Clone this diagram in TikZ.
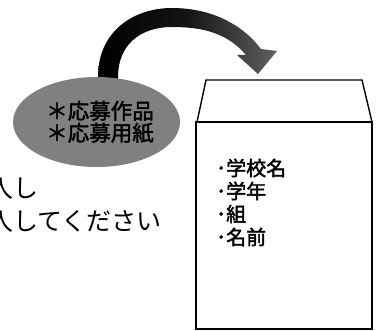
\documentclass[tikz,border=0pt]{standalone}
\usepackage{fontspec}
\usetikzlibrary{shapes.geometric}
\newfontfamily\cjk{Noto Sans CJK JP}
\newfontfamily\cjkb[FakeBold=2]{Noto Sans CJK JP}
\tikzset{
  envline/.style={line width=1.4pt, line join=miter},
  envtext/.style={anchor=west, inner sep=0pt, font=\cjkb\fontsize{20}{22}\selectfont},
  plaintext/.style={anchor=west, inner sep=0pt, font=\cjk\fontsize{25}{30}\selectfont},
}
\begin{document}
\begin{tikzpicture}[x=1pt,y=-1pt]
\useasboundingbox (0,0) rectangle (383,331);
% curved arrow
\shade[left color=black, right color=black!62, middle color=black!92]
  (98,88) -- (98,77) .. controls (98,30) and (135,8) .. (172,8)
  .. controls (212,8) and (243,25) .. (261,49)
  -- (277,51) -- (258,74) -- (237,55) -- (246,55)
  .. controls (228,34) and (205,27) .. (172,27)
  .. controls (140,27) and (118,45) .. (118,77) -- (118,88) -- cycle;
% oval with items
\node (oval) [ellipse, fill=black!50, minimum width=167pt, minimum height=90pt, inner sep=0pt] at (96.5,122) {};
\node (items) [inner sep=0pt, align=center, font=\cjkb\fontsize{21.5}{22}\selectfont] at (100,122) {＊応募作品\\＊応募用紙};
% left text (cut off at the left edge, as in the reference)
\node (l1) [plaintext] at (-12,189) {入し};
\node (l2) [plaintext] at (-12,221) {入してください};
% envelope
\draw[envline] (196,122) rectangle (372,329);
\draw[envline] (197,122) -- (206,80) -- (362,80) -- (372,122);
\node (e1) [envtext] at (216,168) {･学校名};
\node (e2) [envtext] at (216,191) {･学年};
\node (e3) [envtext] at (216,214) {･組};
\node (e4) [envtext] at (216,237) {･名前};
\end{tikzpicture}
\end{document}
